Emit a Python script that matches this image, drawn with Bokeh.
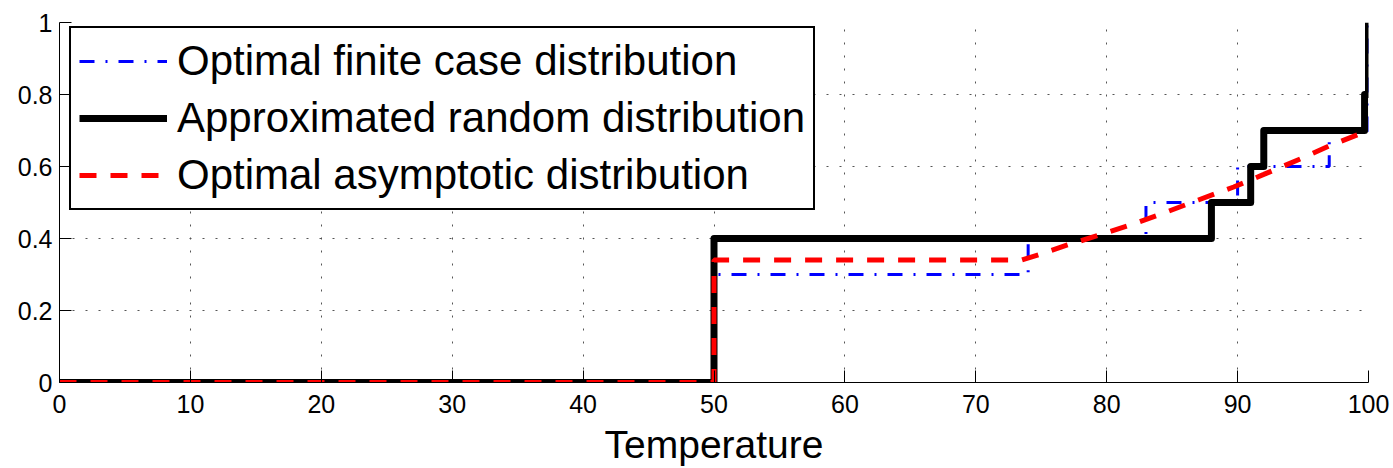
from bokeh.plotting import figure
from bokeh.models import Range1d, FixedTicker, Legend
from bokeh.embed import file_html
from bokeh.resources import INLINE

# ---- data ----
finite_x = [0, 50, 74, 83, 90, 97, 100]
finite_y = [0, 0.3, 0.4, 0.5, 0.6, 0.7, 1.0]

random_x = [0, 50, 88, 91, 92, 99.7, 100]
random_y = [0, 0.4, 0.5, 0.6, 0.7, 0.8, 1.0]

asym_x = [0, 50, 50, 73.5, 75, 77, 79.3, 82, 84.6, 87, 89.7, 92, 94.8, 97, 100]
asym_y = [0, 0, 0.34, 0.34, 0.357, 0.382, 0.408, 0.44, 0.474, 0.507, 0.543, 0.578, 0.621, 0.657, 0.70]

x_ticks = [0, 10, 20, 30, 40, 50, 60, 70, 80, 90, 100]
y_ticks = [0, 0.2, 0.4, 0.6, 0.8, 1.0]
y_tick_labels = ["0", "0.2", "0.4", "0.6", "0.8", "1"]

labels = ["Optimal finite case distribution",
          "Approximated random distribution",
          "Optimal asymptotic distribution"]

FONT = "Liberation Sans"

p = figure(width=1393, height=468, output_backend="svg", toolbar_location=None,
           x_range=Range1d(0, 100), y_range=Range1d(0, 1),
           min_border_left=59, min_border_right=25, min_border_top=22, min_border_bottom=83)
p.outline_line_color = None
p.background_fill_color = "white"
p.border_fill_color = "white"

r1 = p.step(finite_x, finite_y, mode="after", line_color="#0000ff", line_width=3,
            line_dash="15 11 2 11")
r2 = p.step(random_x, random_y, mode="after", line_color="black", line_width=7,
            line_join="round")
r3 = p.line(asym_x, asym_y, line_color="#ff0000", line_width=5, line_dash="17 14")

legend = Legend(items=[(labels[0], [r1]), (labels[1], [r2]), (labels[2], [r3])],
                location=(10, 172))
legend.margin = 0
legend.padding = 8
legend.spacing = 7
legend.glyph_width = 88
legend.glyph_height = 50
legend.label_height = 50
legend.label_standoff = 10
legend.label_text_font = FONT
legend.label_text_font_size = "42px"
legend.label_text_color = "black"
legend.border_line_color = "black"
legend.border_line_alpha = 1
legend.border_line_width = 2
legend.background_fill_color = "white"
legend.background_fill_alpha = 1
p.add_layout(legend)

# axes
p.xaxis.ticker = FixedTicker(ticks=x_ticks)
p.yaxis.ticker = FixedTicker(ticks=y_ticks)
p.yaxis.major_label_overrides = {t: l for t, l in zip(y_ticks, y_tick_labels)}
p.xaxis.major_label_overrides = {t: str(t) for t in x_ticks}
for ax in (p.xaxis, p.yaxis):
    ax.major_tick_in = 12
    ax.major_tick_out = 0
    ax.minor_tick_line_color = None
    ax.axis_line_color = "black"
    ax.major_tick_line_color = "black"
    ax.major_label_text_font = FONT
    ax.major_label_text_font_size = "25px"
    ax.major_label_text_color = "black"
p.xaxis.major_label_standoff = 12
p.yaxis.major_label_standoff = 7
p.xaxis.axis_label = "Temperature"
p.xaxis.axis_label_text_font = FONT
p.xaxis.axis_label_text_font_size = "39px"
p.xaxis.axis_label_text_font_style = "normal"
p.xaxis.axis_label_text_color = "black"
p.xaxis.axis_label_standoff = 7

# dotted grid
for g in (p.xgrid, p.ygrid):
    g.grid_line_color = "#555555"
    g.grid_line_dash = "2 11"
    g.grid_line_width = 1
p.xgrid.ticker = FixedTicker(ticks=x_ticks)
p.ygrid.ticker = FixedTicker(ticks=y_ticks)

open("out.html", "w").write(file_html(p, INLINE))
